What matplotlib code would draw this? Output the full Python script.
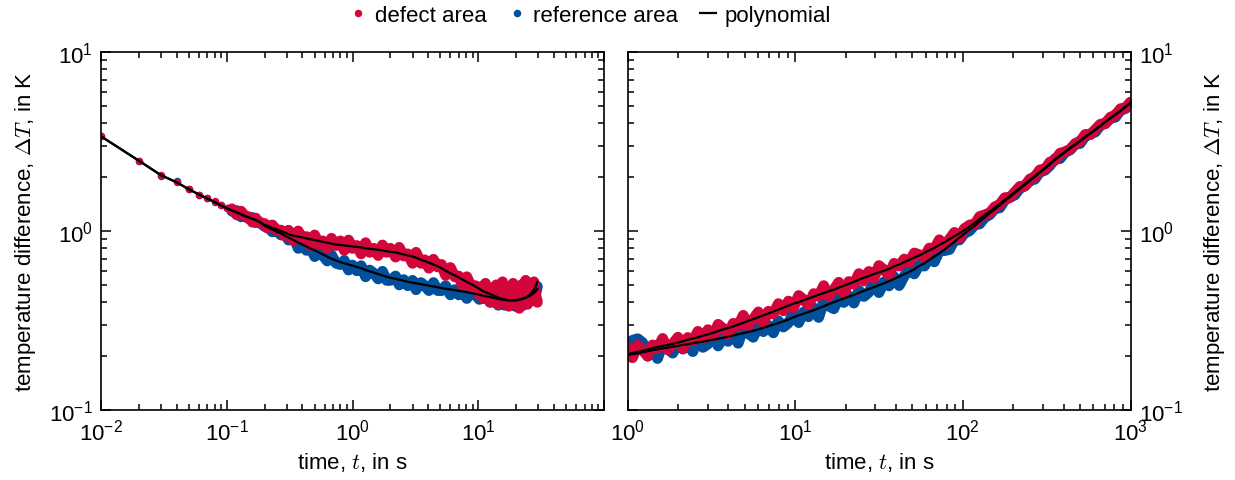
import numpy as np
import matplotlib
matplotlib.use("Agg")
import matplotlib.pyplot as plt
from matplotlib.lines import Line2D
from matplotlib.ticker import NullFormatter

plt.rcParams['font.family'] = ['Liberation Sans', 'DejaVu Sans']
plt.rcParams['mathtext.fontset'] = 'cm'
plt.rcParams['font.size'] = 16

RED = '#d2063a'
BLUE = '#00509b'

# ---- left panel: short times -------------------------------------------
t_left = [0.01, 0.02, 0.03, 0.04, 0.05, 0.06, 0.07, 0.08, 0.09, 0.10,
          0.11, 0.12, 0.13, 0.14, 0.15, 0.16, 0.17, 0.18, 0.20, 0.21,
          0.23, 0.25, 0.27, 0.29, 0.31, 0.34, 0.37, 0.40, 0.43, 0.46,
          0.50, 0.54, 0.58, 0.63, 0.68, 0.74, 0.80, 0.86, 0.93, 1.0,
          1.08, 1.17, 1.27, 1.37, 1.48, 1.6, 1.73, 1.87, 2.0, 2.2,
          2.35, 2.55, 2.75, 3.0, 3.2, 3.5, 3.75, 4.05, 4.4, 4.75,
          5.1, 5.5, 6.0, 6.5, 7.0, 7.5, 8.1, 8.8, 9.5, 10.2,
          10.6, 11.0, 11.4, 11.9, 12.4, 12.9, 13.4, 13.9, 14.4, 15.0,
          15.6, 16.2, 16.8, 17.5, 18.2, 18.9, 19.6, 20.4, 21.2, 22.0,
          22.9, 23.8, 24.7, 25.7, 26.7, 27.7, 28.6, 29.5]

left_defect = [3.40, 2.46, 2.05, 1.89, 1.71, 1.59, 1.52, 1.47, 1.39, 1.35,
               1.33, 1.23, 1.29, 1.20, 1.20, 1.12, 1.18, 1.11, 1.10, 1.04,
               1.08, 1.01, 1.01, 0.94, 1.01, 0.88, 1.00, 0.90, 0.93, 0.83,
               0.95, 0.845, 0.88, 0.80, 0.91, 0.83, 0.88, 0.78, 0.89, 0.80,
               0.83, 0.745, 0.86, 0.76, 0.80, 0.73, 0.835, 0.76, 0.80, 0.715,
               0.81, 0.725, 0.745, 0.66, 0.76, 0.66, 0.69, 0.62, 0.695, 0.63,
               0.65, 0.565, 0.625, 0.555, 0.56, 0.49, 0.555, 0.485, 0.495, 0.44,
               0.49, 0.42, 0.51, 0.45, 0.40, 0.48, 0.43, 0.50, 0.39, 0.46,
               0.52, 0.41, 0.48, 0.38, 0.45, 0.51, 0.40, 0.47, 0.37, 0.50,
               0.43, 0.53, 0.39, 0.47, 0.41, 0.52, 0.44, 0.40]

left_reference = [3.39, 2.45, 2.04, 1.90, 1.72, 1.58, 1.53, 1.46, 1.40, 1.34,
                  1.29, 1.30, 1.20, 1.22, 1.17, 1.19, 1.115, 1.13, 1.06, 1.07,
                  0.99, 1.00, 0.95, 0.96, 0.89, 0.925, 0.80, 0.85, 0.78, 0.825,
                  0.72, 0.775, 0.73, 0.68, 0.735, 0.66, 0.65, 0.685, 0.605, 0.645,
                  0.60, 0.64, 0.555, 0.605, 0.58, 0.54, 0.595, 0.53, 0.53, 0.56,
                  0.50, 0.535, 0.495, 0.53, 0.47, 0.515, 0.495, 0.465, 0.515, 0.465,
                  0.465, 0.495, 0.44, 0.47, 0.44, 0.475, 0.42, 0.46, 0.44, 0.415,
                  0.46, 0.42, 0.42, 0.445, 0.40, 0.43, 0.40, 0.43, 0.385, 0.425,
                  0.41, 0.385, 0.43, 0.395, 0.40, 0.425, 0.38, 0.415, 0.395, 0.43,
                  0.385, 0.43, 0.425, 0.41, 0.465, 0.43, 0.445, 0.49]

left_fit_defect = [3.38, 2.47, 2.05, 1.87, 1.71, 1.60, 1.52, 1.45, 1.39, 1.34,
                   1.30, 1.27, 1.24, 1.21, 1.19, 1.17, 1.15, 1.13, 1.08, 1.07,
                   1.04, 1.02, 1.00, 0.98, 0.96, 0.94, 0.93, 0.92, 0.91, 0.90,
                   0.89, 0.88, 0.87, 0.86, 0.85, 0.84, 0.835, 0.83, 0.825, 0.82,
                   0.815, 0.81, 0.80, 0.795, 0.79, 0.785, 0.78, 0.77, 0.765, 0.76,
                   0.75, 0.74, 0.73, 0.72, 0.71, 0.69, 0.68, 0.665, 0.65, 0.635,
                   0.62, 0.60, 0.58, 0.565, 0.55, 0.535, 0.52, 0.505, 0.49, 0.475,
                   0.467, 0.46, 0.455, 0.45, 0.445, 0.44, 0.435, 0.43, 0.425, 0.42,
                   0.417, 0.415, 0.412, 0.41, 0.41, 0.41, 0.41, 0.41, 0.412, 0.415,
                   0.42, 0.425, 0.432, 0.44, 0.453, 0.47, 0.49, 0.52]

left_fit_reference = [3.38, 2.47, 2.05, 1.87, 1.71, 1.60, 1.52, 1.45, 1.39, 1.34,
                      1.30, 1.27, 1.24, 1.21, 1.19, 1.17, 1.15, 1.13, 1.07, 1.05,
                      1.02, 0.99, 0.97, 0.94, 0.92, 0.89, 0.86, 0.84, 0.82, 0.80,
                      0.78, 0.76, 0.74, 0.72, 0.70, 0.685, 0.67, 0.66, 0.65, 0.64,
                      0.63, 0.62, 0.605, 0.595, 0.585, 0.575, 0.565, 0.555, 0.548, 0.54,
                      0.535, 0.528, 0.52, 0.515, 0.51, 0.505, 0.50, 0.495, 0.49, 0.485,
                      0.48, 0.476, 0.472, 0.467, 0.463, 0.46, 0.455, 0.45, 0.445, 0.44,
                      0.437, 0.435, 0.432, 0.43, 0.428, 0.425, 0.422, 0.42, 0.417, 0.415,
                      0.413, 0.412, 0.411, 0.41, 0.41, 0.41, 0.411, 0.412, 0.414, 0.417,
                      0.42, 0.423, 0.428, 0.435, 0.442, 0.45, 0.46, 0.475]

# ---- right panel: long times -------------------------------------------
t_right = [1.00, 1.07, 1.15, 1.23, 1.32, 1.41, 1.51, 1.62, 1.74, 1.86,
           2.0, 2.14, 2.29, 2.45, 2.63, 2.82, 3.02, 3.24, 3.47, 3.72,
           3.98, 4.27, 4.57, 4.9, 5.25, 5.62, 6.03, 6.46, 6.92, 7.41,
           7.94, 8.51, 9.12, 9.77, 10.5, 11.2, 12.0, 12.9, 13.8, 14.8,
           15.8, 17.0, 18.2, 19.5, 20.9, 22.4, 24.0, 25.7, 27.5, 29.5,
           31.6, 33.9, 36.3, 38.9, 41.7, 44.7, 47.9, 51.3, 55.0, 58.9,
           63.1, 67.6, 72.4, 77.6, 83.2, 89.1, 95.5, 102, 110, 118,
           126, 135, 145, 155, 166, 178, 191, 204, 219, 234,
           251, 269, 288, 309, 331, 355, 380, 407, 437, 468,
           501, 537, 575, 617, 661, 708, 759, 813, 871, 933, 1000]

right_defect = [0.225, 0.196, 0.23, 0.216, 0.20, 0.231, 0.22, 0.251, 0.217, 0.234,
                0.255, 0.22, 0.254, 0.243, 0.275, 0.25, 0.281, 0.257, 0.301, 0.285,
                0.264, 0.305, 0.294, 0.338, 0.296, 0.322, 0.353, 0.308, 0.356, 0.344,
                0.393, 0.358, 0.406, 0.373, 0.436, 0.414, 0.386, 0.447, 0.431, 0.495,
                0.432, 0.47, 0.517, 0.45, 0.522, 0.504, 0.578, 0.526, 0.594, 0.546,
                0.641, 0.606, 0.566, 0.66, 0.637, 0.697, 0.666, 0.753, 0.737, 0.713,
                0.803, 0.793, 0.893, 0.83, 0.90, 0.982, 0.912, 1.03, 1.081, 1.093,
                1.205, 1.23, 1.264, 1.364, 1.406, 1.535, 1.539, 1.65, 1.775, 1.784,
                1.949, 2.01, 2.194, 2.216, 2.428, 2.482, 2.719, 2.77, 2.862, 3.081,
                3.168, 3.461, 3.45, 3.69, 3.947, 3.978, 4.323, 4.435, 4.818, 4.876, 5.25]

right_reference = [0.215, 0.245, 0.25, 0.238, 0.20, 0.222, 0.194, 0.234, 0.219, 0.208,
                   0.237, 0.219, 0.235, 0.212, 0.246, 0.224, 0.234, 0.259, 0.228, 0.258,
                   0.242, 0.269, 0.236, 0.285, 0.268, 0.255, 0.293, 0.274, 0.297, 0.27,
                   0.315, 0.291, 0.307, 0.347, 0.308, 0.352, 0.332, 0.372, 0.329, 0.403,
                   0.382, 0.368, 0.426, 0.399, 0.434, 0.396, 0.466, 0.431, 0.455, 0.51,
                   0.453, 0.52, 0.494, 0.556, 0.496, 0.56, 0.61, 0.576, 0.646, 0.637,
                   0.704, 0.673, 0.776, 0.777, 0.789, 0.892, 0.892, 0.97, 1.005, 1.086,
                   1.096, 1.19, 1.235, 1.333, 1.348, 1.492, 1.542, 1.589, 1.737, 1.783,
                   1.91, 1.95, 2.141, 2.185, 2.325, 2.538, 2.541, 2.75, 2.842, 3.06,
                   3.085, 3.39, 3.483, 3.578, 3.889, 3.999, 4.26, 4.326, 4.727, 4.831, 5.18]

right_fit_defect = [0.205, 0.208, 0.211, 0.214, 0.218, 0.222, 0.225, 0.228, 0.231, 0.234,
                    0.238, 0.242, 0.247, 0.251, 0.255, 0.26, 0.265, 0.27, 0.276, 0.282,
                    0.287, 0.293, 0.30, 0.307, 0.315, 0.322, 0.33, 0.338, 0.346, 0.355,
                    0.364, 0.373, 0.383, 0.393, 0.40, 0.41, 0.42, 0.43, 0.44, 0.45,
                    0.46, 0.47, 0.483, 0.495, 0.507, 0.52, 0.535, 0.548, 0.56, 0.575,
                    0.588, 0.60, 0.615, 0.635, 0.65, 0.67, 0.69, 0.71, 0.73, 0.755,
                    0.78, 0.805, 0.835, 0.865, 0.90, 0.935, 0.97, 1.01, 1.06, 1.11,
                    1.17, 1.23, 1.29, 1.35, 1.42, 1.49, 1.57, 1.65, 1.74, 1.83,
                    1.93, 2.03, 2.14, 2.25, 2.38, 2.52, 2.64, 2.77, 2.92, 3.05,
                    3.2, 3.36, 3.52, 3.69, 3.87, 4.08, 4.28, 4.48, 4.70, 4.95, 5.2]

right_fit_reference = [0.203, 0.205, 0.207, 0.21, 0.213, 0.216, 0.218, 0.221, 0.223, 0.226,
                       0.228, 0.231, 0.233, 0.236, 0.239, 0.241, 0.244, 0.247, 0.25, 0.253,
                       0.257, 0.261, 0.265, 0.269, 0.273, 0.277, 0.282, 0.288, 0.294, 0.30,
                       0.306, 0.313, 0.32, 0.33, 0.338, 0.345, 0.353, 0.361, 0.37, 0.38,
                       0.39, 0.40, 0.41, 0.42, 0.43, 0.44, 0.452, 0.463, 0.474, 0.486,
                       0.498, 0.51, 0.525, 0.54, 0.557, 0.574, 0.592, 0.61, 0.64, 0.66,
                       0.69, 0.72, 0.75, 0.785, 0.83, 0.87, 0.92, 0.965, 1.02, 1.07,
                       1.13, 1.19, 1.26, 1.32, 1.39, 1.47, 1.55, 1.63, 1.72, 1.81,
                       1.91, 2.01, 2.12, 2.23, 2.36, 2.50, 2.62, 2.75, 2.90, 3.03,
                       3.18, 3.34, 3.50, 3.67, 3.85, 4.06, 4.26, 4.46, 4.68, 4.93, 5.18]

left_xticks = [1e-2, 1e-1, 1e0, 1e1, 1e2]
left_xticklabels = [r'$\mathdefault{10^{-2}}$', r'$\mathdefault{10^{-1}}$',
                    r'$\mathdefault{10^{0}}$', r'$\mathdefault{10^{1}}$', '']
right_xticks = [1e0, 1e1, 1e2, 1e3]
right_xticklabels = [r'$\mathdefault{10^{0}}$', r'$\mathdefault{10^{1}}$',
                     r'$\mathdefault{10^{2}}$', r'$\mathdefault{10^{3}}$']
yticks = [1e-1, 1e0, 1e1]
yticklabels = [r'$\mathdefault{10^{-1}}$', r'$\mathdefault{10^{0}}$',
               r'$\mathdefault{10^{1}}$']

ylabel = r'temperature difference, $\Delta T$, in K'
xlabel = r'time, $t$, in s'

fig = plt.figure(figsize=(12.35, 4.81), dpi=100)
ax1 = fig.add_axes([0.0818, 0.1455, 0.4073, 0.7443])
ax2 = fig.add_axes([0.5081, 0.1455, 0.4073, 0.7443])


def draw_area(ax, t, v, color, tmin):
    t = np.asarray(t)
    v = np.asarray(v)
    dense = t > tmin
    # the dense part of the record forms a solid band: join the samples with
    # a thick round stroke so the gaps between the markers are filled
    ax.plot(t[dense], v[dense], '-', color=color, lw=7.8,
            solid_joinstyle='round', solid_capstyle='round')
    ax.plot(t, v, 'o', ms=5.4, color=color, mec='none')


draw_area(ax1, t_left, left_reference, BLUE, 0.105)
draw_area(ax1, t_left, left_defect, RED, 0.105)
ax1.plot(t_left, left_fit_reference, '-', color='black', lw=1.6)
ax1.plot(t_left, left_fit_defect, '-', color='black', lw=1.6)

draw_area(ax2, t_right, right_reference, BLUE, 0.0)
draw_area(ax2, t_right, right_defect, RED, 0.0)
ax2.plot(t_right, right_fit_reference, '-', color='black', lw=1.6)
ax2.plot(t_right, right_fit_defect, '-', color='black', lw=1.6)

for ax in (ax1, ax2):
    ax.set_xscale('log')
    ax.set_yscale('log')
    ax.set_ylim(0.1, 10)
    ax.set_yticks(yticks, yticklabels)
    ax.xaxis.set_minor_formatter(NullFormatter())
    ax.yaxis.set_minor_formatter(NullFormatter())
    ax.tick_params(which='both', direction='in', top=True, bottom=True,
                   left=True, right=True, width=1.1)
    ax.tick_params(which='major', length=7, pad=6)
    ax.tick_params(which='minor', length=4)
    for sp in ax.spines.values():
        sp.set_linewidth(1.2)
    ax.set_xlabel(xlabel)

ax1.set_xlim(1e-2, 1e2)
ax1.set_xticks(left_xticks, left_xticklabels)
ax1.set_ylabel(ylabel, labelpad=8)

ax2.set_xlim(1e0, 1e3)
ax2.set_xticks(right_xticks, right_xticklabels)
ax2.tick_params(labelleft=False, labelright=True)
ax2.yaxis.set_label_position('right')
ax2.set_ylabel(ylabel, labelpad=14)

handles = [Line2D([], [], ls='none', marker='o', ms=5.4, color=RED, mec='none'),
           Line2D([], [], ls='none', marker='o', ms=5.4, color=BLUE, mec='none'),
           Line2D([], [], ls='none', marker='_', ms=13, mew=1.6, color='black')]
fig.legend(handles, ['defect area', 'reference area', 'polynomial'],
           loc='center', bbox_to_anchor=(0.478, 0.966), ncol=3, frameon=False,
           handlelength=0.8, handletextpad=0.35, columnspacing=0.95,
           borderpad=0.1)

fig.savefig('out.png', dpi=100)
